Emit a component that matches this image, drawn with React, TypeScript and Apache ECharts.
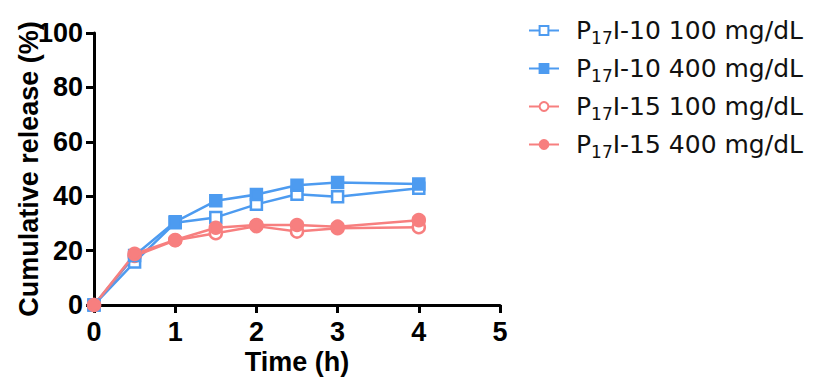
import React, { useEffect, useRef } from "react";
import * as echarts from "echarts";

const times = [0, 0.5, 1, 1.5, 2, 2.5, 3, 4];
const p10_100 = [0, 15.8, 30.2, 32.2, 37.0, 40.7, 39.8, 42.9];
const p10_400 = [0, 18.2, 30.6, 38.3, 40.6, 44.0, 45.0, 44.5];
const p15_100 = [0, 18.0, 23.8, 26.4, 29.0, 27.0, 28.2, 28.6];
const p15_400 = [0, 18.8, 23.9, 28.4, 29.4, 29.4, 28.8, 31.2];
const seriesNames = [
  "P17I-10 100 mg/dL",
  "P17I-10 400 mg/dL",
  "P17I-15 100 mg/dL",
  "P17I-15 400 mg/dL",
];
const yTicks = [0, 20, 40, 60, 80, 100];
const xTicks = [0, 1, 2, 3, 4, 5];

const BLUE = "#4D9BF0";
const RED = "#F77F7F";

function pairs(vals: number[]) {
  return times.map((t, i) => [t, vals[i]]);
}

export default function App() {
  const ref = useRef<HTMLDivElement>(null);
  useEffect(() => {
    if (!ref.current) return;
    const chart = echarts.init(ref.current, null, { renderer: "svg" });
    const font = "Liberation Sans, Arial, sans-serif";
    const lfont = "DejaVu Sans, sans-serif";
    const mk = (
      name: string,
      vals: number[],
      color: string,
      symbol: string,
      filled: boolean
    ) => ({
      name,
      type: "line",
      data: pairs(vals),
      symbol,
      symbolSize: symbol === "circle" ? 12 : 11,
      lineStyle: { color, width: 2.5 },
      itemStyle: {
        color: filled ? color : "#ffffff",
        borderColor: color,
        borderWidth: 2.5,
      },
      z: filled ? 3 : 2,
    });
    chart.setOption({
      animation: false,
      grid: {
        left: 86,
        right: 313,
        top: 25,
        bottom: 74,
        containLabel: false,
        outerBoundsMode: "none",
      },
      legend: {
        orient: "vertical",
        left: 520,
        top: 10,
        padding: 0,
        itemWidth: 30,
        itemHeight: 11,
        itemGap: 10,
        data: seriesNames,
        formatter: (n: string) => {
          const rest = n.replace("P17", "");
          return "{n0|P}{s|17}{n|" + rest + "}";
        },
        textStyle: {
          rich: {
            n0: {
              fontFamily: lfont,
              fontSize: 25,
              color: "#111",
              height: 26,
              padding: [0, 0, 0, 12],
            },
            n: { fontFamily: lfont, fontSize: 25, color: "#111", height: 26 },
            s: {
              fontFamily: lfont,
              fontSize: 17,
              color: "#111",
              padding: [14, 0, 0, 0],
            },
          },
        },
      },
      xAxis: {
        type: "value",
        min: 0,
        max: 5,
        interval: 1,
        name: "Time (h)",
        nameLocation: "middle",
        nameGap: 43,
        nameMoveOverlap: false,
        nameTextStyle: {
          fontFamily: font,
          fontWeight: "bold",
          fontSize: 27,
          color: "#000",
        },
        axisLine: { onZero: false, lineStyle: { color: "#000", width: 3 } },
        axisTick: { length: 8, lineStyle: { color: "#000", width: 3 } },
        axisLabel: {
          fontFamily: font,
          fontWeight: "bold",
          fontSize: 27,
          color: "#000",
          margin: 13,
          formatter: (v: number) => (xTicks.includes(v) ? String(v) : ""),
        },
        splitLine: { show: false },
      },
      yAxis: {
        type: "value",
        min: 0,
        max: 100,
        interval: 20,
        name: "Cumulative release (%)",
        nameLocation: "middle",
        nameGap: 52,
        nameMoveOverlap: false,
        nameTextStyle: {
          fontFamily: font,
          fontWeight: "bold",
          fontSize: 27,
          color: "#000",
        },
        axisLine: { onZero: false, lineStyle: { color: "#000", width: 3 } },
        axisTick: { length: 8, lineStyle: { color: "#000", width: 3 } },
        axisLabel: {
          fontFamily: font,
          fontWeight: "bold",
          fontSize: 27,
          color: "#000",
          margin: 11,
          formatter: (v: number) => (yTicks.includes(v) ? String(v) : ""),
        },
        splitLine: { show: false },
      },
      series: [
        mk(seriesNames[0], p10_100, BLUE, "rect", false),
        mk(seriesNames[1], p10_400, BLUE, "rect", true),
        mk(seriesNames[2], p15_100, RED, "circle", false),
        mk(seriesNames[3], p15_400, RED, "circle", true),
      ],
    });
    return () => chart.dispose();
  }, []);
  return <div ref={ref} style={{ width: 805, height: 371 }} />;
}
